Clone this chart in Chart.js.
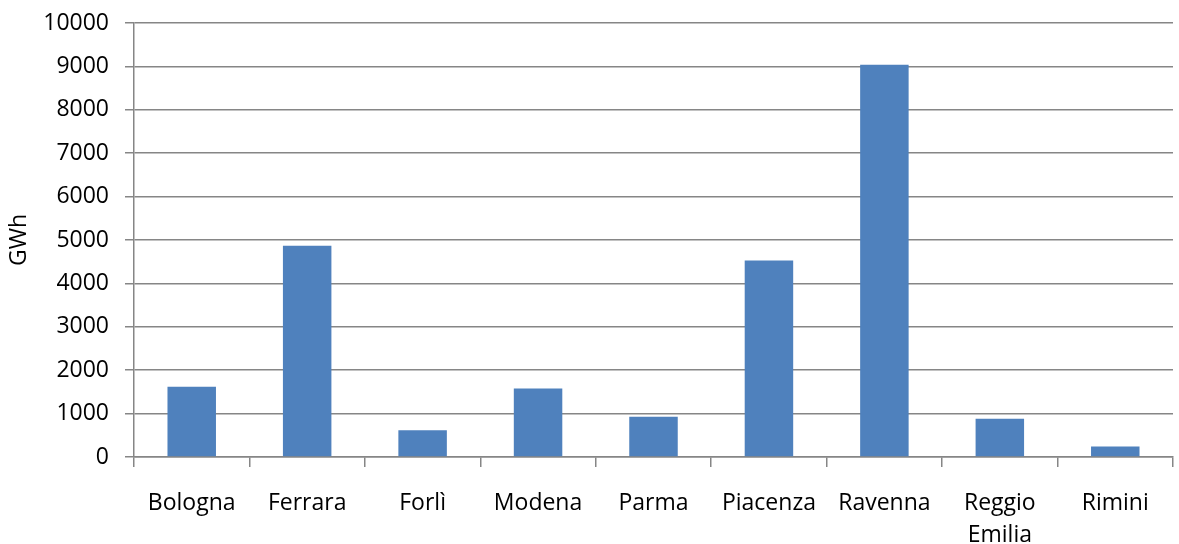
<!DOCTYPE html>
<html>
<head>
<meta charset="utf-8">
<script src="https://cdn.jsdelivr.net/npm/chart.js@4"></script>
<style>
    html, body { margin: 0; padding: 0; background: #fff; }
    #wrap { width: 1179px; height: 544px; position: relative; }
</style>
</head>
<body>
<div id="wrap"><canvas id="chartGWh"></canvas></div>
<script>
// Produzione per provincia (GWh)
const province = ['Bologna', 'Ferrara', 'Forlì', 'Modena', 'Parma', 'Piacenza', 'Ravenna', ['Reggio', 'Emilia'], 'Rimini'];
const valoriGWh = [1620, 4870, 615, 1580, 930, 4525, 9040, 880, 240];
const yTicks = [0, 1000, 2000, 3000, 4000, 5000, 6000, 7000, 8000, 9000, 10000];

const gridColor = '#868686';
const fontFamily = '"Open Sans", "Noto Sans", sans-serif';

new Chart(document.getElementById('chartGWh').getContext('2d'), {
    type: 'bar',
    data: {
        labels: province,
        datasets: [{
            label: 'GWh',
            data: valoriGWh,
            backgroundColor: '#4F81BD',
            borderWidth: 0,
            barPercentage: 0.42,
            categoryPercentage: 1
        }]
    },
    options: {
        responsive: true,
        maintainAspectRatio: false,
        animation: false,
        layout: { padding: { top: 0, right: 6, left: 0, bottom: 0 } },
        plugins: {
            legend: { display: false },
            tooltip: { enabled: false }
        },
        scales: {
            x: {
                offset: true,
                grid: {
                    drawOnChartArea: false,
                    drawTicks: true,
                    tickLength: 10,
                    color: gridColor,
                    lineWidth: 1.5,
                    offset: true
                },
                border: { color: gridColor, width: 1.5 },
                ticks: {
                    color: '#000',
                    font: { family: fontFamily, size: 23, lineHeight: 1.4 },
                    padding: 20,
                    maxRotation: 0,
                    autoSkip: false
                },
                afterFit: s => { s.height = 87; }
            },
            y: {
                min: 0,
                max: 10000,
                afterBuildTicks: s => { s.ticks = yTicks.map(v => ({ value: v })); },
                grid: {
                    color: gridColor,
                    lineWidth: 1.5,
                    tickLength: 9
                },
                border: { color: gridColor, width: 1.5 },
                ticks: {
                    color: '#000',
                    font: { family: fontFamily, size: 23 },
                    padding: 16,
                    callback: v => String(v)
                },
                title: {
                    display: true,
                    text: 'GWh',
                    color: '#000',
                    font: { family: fontFamily, size: 23 },
                    padding: { top: 6, bottom: 0 }
                },
                afterFit: s => { s.width = 134; s.paddingTop = 23; }
            }
        }
    }
});
</script>
</body>
</html>
